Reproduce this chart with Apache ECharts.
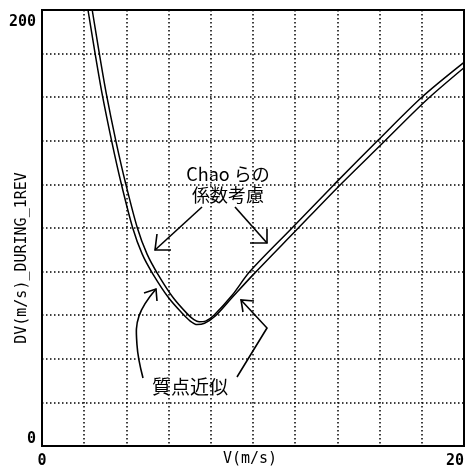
<!DOCTYPE html>
<html>
<head>
<meta charset="utf-8">
<script src="https://cdn.jsdelivr.net/npm/echarts@6/dist/echarts.min.js"></script>
<style>html,body{margin:0;padding:0;background:#fff;}#c{width:466px;height:468px;}</style>
</head>
<body>
<div id="c"></div>
<script>
// Mass-point approximation (質点近似)
var vMass  = [2.18, 2.50, 2.84, 3.30, 3.74, 4.30, 4.75, 5.25, 6.00, 6.68, 7.00, 7.35, 7.70, 8.20, 9.00, 10.0, 12.0, 14.0, 16.1, 18.2, 20.0];
var dvMass = [200, 181, 162, 140, 121, 100, 88, 79, 68, 60.5, 57.5, 55.7, 56.3, 59.5, 68, 78.5, 98.5, 118.5, 138.5, 158.5, 173.5];
// With Chao et al. coefficients (Chaoらの係数考慮)
var vChao  = [2.38, 2.70, 3.04, 3.50, 3.95, 4.52, 4.98, 5.48, 6.22, 6.90, 7.20, 7.45, 7.75, 8.15, 9.00, 9.85, 11.85, 13.85, 15.9, 18.0, 20.0];
var dvChao = [200, 181, 162, 140, 121, 100, 88, 79, 68, 60.5, 58, 57, 57.3, 60, 69, 80, 100, 120, 140, 160, 176];
var xTickLabels = {0: '0', 20: '20'};
var yTickLabels = {0: '0', 200: '200'};

function pairs(xs, ys) { return xs.map(function (x, i) { return [x, ys[i]]; }); }

var chart = echarts.init(document.getElementById('c'));
var mono = '"DejaVu Sans Mono", monospace';
var jp = '"Noto Sans CJK JP", "Noto Sans", sans-serif';
var dotted = { color: '#000', width: 1.5, type: [1.5, 2.5] };

function arrow(pts, smooth) {
  return { type: 'polyline', silent: true, z: 100,
    shape: { points: pts, smooth: smooth || 0 },
    style: { stroke: '#000', lineWidth: 1.6, fill: null } };
}

chart.setOption({
  animation: false,
  backgroundColor: '#fff',
  grid: { left: 42, right: 2, top: 10, bottom: 22, show: true, borderColor: '#000', borderWidth: 2,
    containLabel: false, outerBoundsMode: 'none' },
  xAxis: {
    type: 'value', min: 0, max: 20, interval: 2,
    name: 'V(m/s)', nameLocation: 'middle', nameGap: 6, nameMoveOverlap: false,
    nameTextStyle: { fontFamily: mono, fontSize: 15, color: '#000', padding: [0, 6, 0, 0], verticalAlign: 'top' },
    axisLine: { show: false }, axisTick: { show: false },
    splitLine: { show: true, lineStyle: dotted },
    axisLabel: { margin: 8, fontFamily: mono, fontSize: 15, fontWeight: 'bold', color: '#000',
      alignMaxLabel: 'right',
      formatter: function (v) { return xTickLabels[v] || ''; } }
  },
  yAxis: {
    type: 'value', min: 0, max: 200, interval: 20,
    axisLine: { show: false }, axisTick: { show: false },
    splitLine: { show: true, lineStyle: dotted },
    axisLabel: { margin: 6, fontFamily: mono, fontSize: 15, fontWeight: 'bold', color: '#000',
      formatter: function (v) {
        if (v === 200) return '{t|' + yTickLabels[v] + '}';
        if (v === 0) return '{b|' + yTickLabels[v] + '}';
        return '';
      },
      rich: {
        t: { fontFamily: mono, fontSize: 15, fontWeight: 'bold', color: '#000', padding: [24, 0, 0, 0] },
        b: { fontFamily: mono, fontSize: 15, fontWeight: 'bold', color: '#000', padding: [0, 0, 14, 0] }
      } }
  },
  series: [
    { name: '質点近似', type: 'line', smooth: 0.3, symbol: 'none', clip: true,
      lineStyle: { color: '#000', width: 1.5 }, data: pairs(vMass, dvMass) },
    { name: 'Chaoらの係数考慮', type: 'line', smooth: 0.3, symbol: 'none', clip: true,
      lineStyle: { color: '#000', width: 1.5 }, data: pairs(vChao, dvChao) }
  ],
  graphic: [
    { type: 'text', x: 22, y: 258, rotation: Math.PI / 2, silent: true,
      style: { text: 'DV(m/s)_DURING_1REV', font: '15px ' + mono, fill: '#000', align: 'center', verticalAlign: 'middle' } },
    { type: 'text', x: 228, y: 164, silent: true, z: 100,
      style: { text: 'Chao らの\n係数考慮', font: '18px ' + jp, fill: '#000', align: 'center', verticalAlign: 'top', lineHeight: 21 } },
    { type: 'text', x: 190, y: 377, silent: true, z: 100,
      style: { text: '質点近似', font: '19px ' + jp, fill: '#000', align: 'center', verticalAlign: 'top' } },
    // Chao left arrow
    arrow([[202, 207], [155, 250]]),
    arrow([[157, 234], [155, 250], [171, 250]]),
    // Chao right arrow
    arrow([[235, 207], [267, 243]]),
    arrow([[250, 243], [267, 243], [267, 229]]),
    // Mass left arrow (curved)
    arrow([[143, 378], [137, 345], [139, 316], [156, 289]], 0.4),
    arrow([[144, 293], [156, 289], [157, 301]]),
    // Mass right arrow
    arrow([[237, 377], [267, 328], [241, 300]]),
    arrow([[254, 301], [241, 300], [243, 312]])
  ]
});
</script>
</body>
</html>
